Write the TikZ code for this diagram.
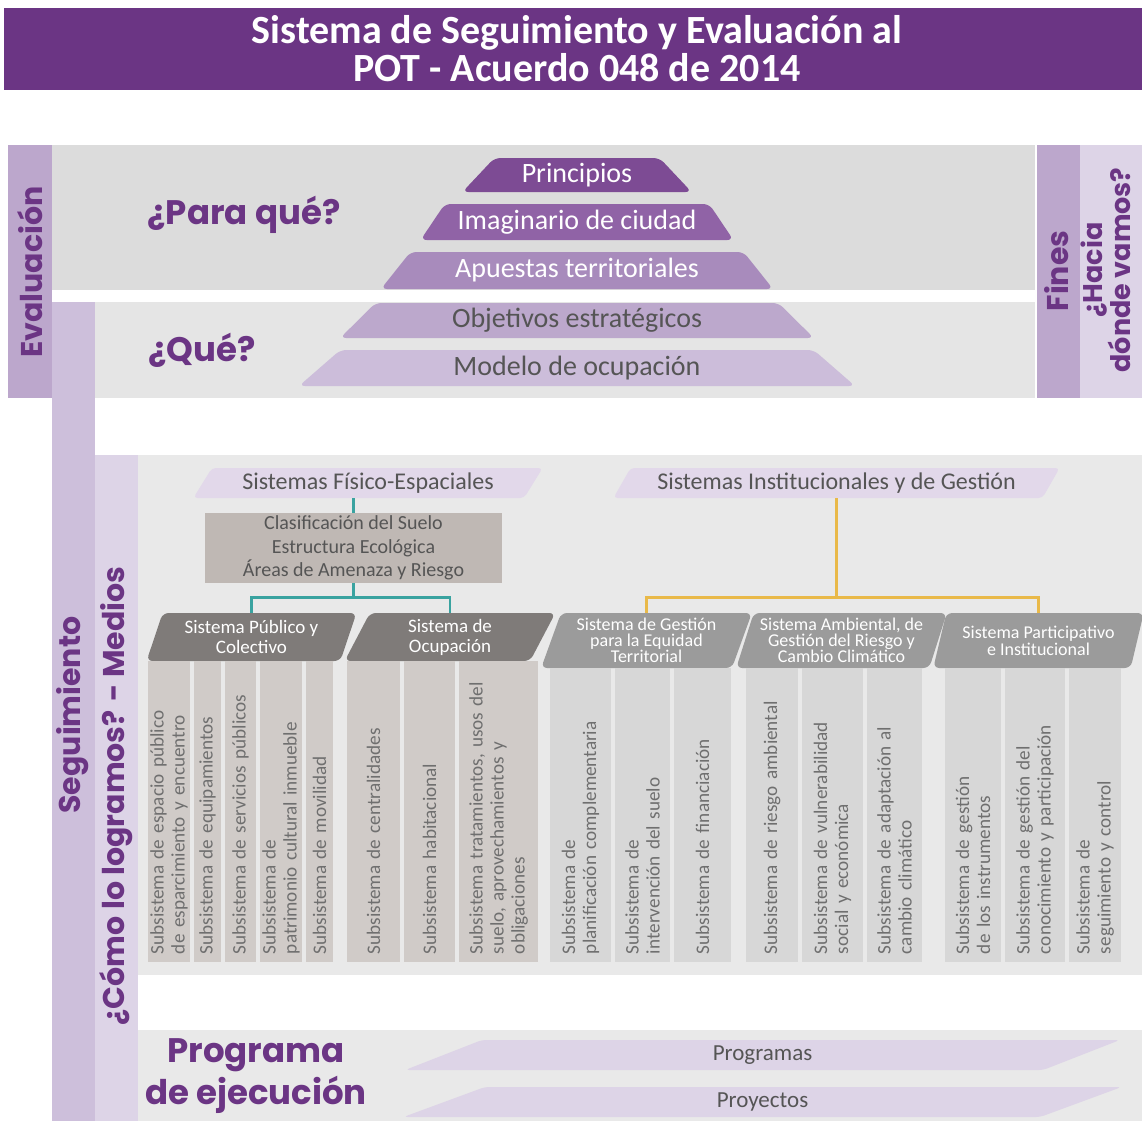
\documentclass[tikz,border=0pt]{standalone}
\usepackage{fontspec}
\setmainfont{Carlito}
\newfontfamily\headfont{Poppins}
\usetikzlibrary{shapes.geometric}

\definecolor{potpurple}{HTML}{6B3584}
\definecolor{barmid}{HTML}{BCA7CC}
\definecolor{barlight}{HTML}{CDBFDB}
\definecolor{barpale}{HTML}{DDD4E7}
\definecolor{panelA}{HTML}{DCDCDC}
\definecolor{panelB}{HTML}{E5E5E5}
\definecolor{panelC}{HTML}{E9E9E9}
\definecolor{lvlone}{HTML}{7D4B94}
\definecolor{lvltwo}{HTML}{9063A6}
\definecolor{lvlthree}{HTML}{A88BBC}
\definecolor{lvlfour}{HTML}{BCA8CC}
\definecolor{lvlfive}{HTML}{CCBDDA}
\definecolor{tagfill}{HTML}{E2D8EA}
\definecolor{soilbox}{HTML}{BFB8B4}
\definecolor{hdrdark}{HTML}{7F7B79}
\definecolor{hdrlight}{HTML}{9B9B9B}
\definecolor{subwarm}{HTML}{D0CBC8}
\definecolor{subcool}{HTML}{D7D7D7}
\definecolor{subtext}{HTML}{6F6F6F}
\definecolor{darktext}{HTML}{555555}
\definecolor{linkteal}{HTML}{3AA3A0}
\definecolor{linkgold}{HTML}{E9B949}

\tikzset{
  ask/.style={font=\headfont\bfseries\fontsize{17}{21}\selectfont, text=potpurple},
  sidelabel/.style={rotate=90, font=\headfont\bfseries\fontsize{15}{15}\selectfont, text=potpurple, align=center},
  lvl/.style={trapezium, trapezium left angle=48, trapezium right angle=48, trapezium stretches=true,
    inner sep=0pt, rounded corners=3pt, font=\fontsize{14}{16}\selectfont},
  tag/.style={trapezium, trapezium left angle=54, trapezium right angle=126, trapezium stretches=true,
    inner sep=0pt, rounded corners=2pt, fill=tagfill, text=darktext, minimum height=15pt,
    font=\fontsize{12}{14}\selectfont},
  hdr/.style={trapezium, trapezium left angle=70, trapezium right angle=110, trapezium stretches=true,
    inner sep=0pt, rounded corners=3pt, text=white, align=center, minimum width=105.5pt},
  subA/.style={rotate=90, fill=subwarm, text=subtext, inner xsep=4pt, inner ysep=0pt,
    text width=142.5pt, align=left, font=\fontsize{9.6}{10.5}\selectfont},
  subB/.style={subA, fill=subcool, text width=139pt},
  link/.style={line width=1.2pt},
}

\begin{document}
\begin{tikzpicture}[x=0.5pt, y=-0.5pt]
  \useasboundingbox (0,0) rectangle (1142,1121);
  \clip (0,0) rectangle (1142,1121);

  % title bar
  \fill[potpurple] (4,8) rectangle (1142,90);
  \node[text=white, font=\bfseries\fontsize{20}{19}\selectfont, align=center] (titulo) at (577,49)
    {Sistema de Seguimiento y Evaluación al\\POT - Acuerdo 048 de 2014};

  % side bars and panels
  \fill[barmid] (8,145) rectangle (52,398);
  \fill[panelA] (52,145) rectangle (1035,290);
  \fill[barlight] (52,302) rectangle (95,1121);
  \fill[panelB] (95,302) rectangle (1035,398);
  \fill[barmid] (1037,145) rectangle (1080,398);
  \fill[barpale] (1080,145) rectangle (1142,398);
  \fill[barpale] (95,455) rectangle (138,1121);
  \fill[panelC] (138,455) rectangle (1142,975);
  \fill[panelC] (138,1030) rectangle (1142,1121);

  \node[sidelabel] (evaluacion) at (30,272) {Evaluación};
  \node[sidelabel] (seguimiento) at (73,715) {Seguimiento};
  \node[sidelabel] (medios) at (116,796) {¿Cómo lo logramos? - Medios};
  \node[sidelabel] (fines) at (1057,271) {Fines};
  \node[sidelabel, font=\headfont\bfseries\fontsize{13.5}{14}\selectfont] (hacia) at (1106,270) {¿Hacia\\dónde vamos?};

  \node[ask] (paraque) at (244,215) {¿Para qué?};
  \node[ask] (que) at (202,350) {¿Qué?};

  % pyramid
  \node[lvl, fill=lvlone, text=white, minimum width=115pt, minimum height=17pt] (principios) at (577,175) {Principios};
  \node[lvl, fill=lvltwo, text=white, minimum width=156.5pt, minimum height=18pt] (imaginario) at (577,222) {Imaginario de ciudad};
  \node[lvl, fill=lvlthree, text=white, minimum width=196.5pt, minimum height=18.5pt] (apuestas) at (577,270.5) {Apuestas territoriales};
  \node[lvl, fill=lvlfour, text=darktext, minimum width=237pt, minimum height=17.5pt] (objetivos) at (577,320.5) {Objetivos estratégicos};
  \node[lvl, fill=lvlfive, text=darktext, minimum width=278.5pt, minimum height=18pt] (modelo) at (577,368) {Modelo de ocupación};

  % systems
  \node[tag, minimum width=175pt] (fisico) at (368,483) {Sistemas Físico-Espaciales};
  \node[tag, minimum width=223.5pt] (institucional) at (836.5,483) {Sistemas Institucionales y de Gestión};
  \node[fill=soilbox, minimum width=148.5pt, minimum height=35pt, inner sep=0pt, align=center, text=darktext,
    font=\fontsize{10}{11.75}\selectfont] (suelo) at (353.5,548)
    {Clasificación del Suelo\\Estructura Ecológica\\Áreas de Amenaza y Riesgo};

  \node[hdr, fill=hdrdark, minimum height=24pt, font=\fontsize{9.5}{10}\selectfont] (publico) at (251.5,637) {Sistema Público y\\Colectivo};
  \node[hdr, fill=hdrdark, minimum height=24pt, font=\fontsize{9.5}{10}\selectfont] (ocupacion) at (450,637) {Sistema de\\Ocupación};
  \node[hdr, fill=hdrlight, minimum height=27.5pt, font=\fontsize{9}{8}\selectfont] (gestion) at (646.5,640.5) {Sistema de Gestión\\para la Equidad\\Territorial};
  \node[hdr, fill=hdrlight, minimum height=27.5pt, font=\fontsize{9}{8}\selectfont] (ambiental) at (841.5,640.5) {Sistema Ambiental, de\\Gestión del Riesgo y\\Cambio Climático};
  \node[hdr, fill=hdrlight, minimum height=27.5pt, font=\fontsize{9}{8.5}\selectfont] (participativo) at (1038.5,640.5) {Sistema Participativo\\e Institucional};

  % connectors
  \draw[link, linkteal] (suelo.north) -- (suelo.north |- fisico.south);
  \draw[link, linkteal] (suelo.south) -- ++(0,14) coordinate (tealbar);
  \draw[link, linkteal] (publico.north) |- (tealbar) -| (ocupacion.north);
  \draw[link, linkgold] (institucional.south) -- ++(0,99) coordinate (goldbar);
  \draw[link, linkgold] (gestion.north) |- (goldbar) -| (participativo.north);

  % subsystems
  \node[subA, minimum height=21pt] (s1) at (169,811.5) {Subsistema de espacio público\\de esparcimiento y encuentro};
  \node[subA, minimum height=13.5pt] (s2) at (207.5,811.5) {Subsistema de equipamientos};
  \node[subA, minimum height=15.5pt] (s3) at (240.5,811.5) {Subsistema de servicios públicos};
  \node[subA, minimum height=21pt] (s4) at (281,811.5) {Subsistema de\\patrimonio cultural inmueble};
  \node[subA, minimum height=13.5pt] (s5) at (319.5,811.5) {Subsistema de movilidad};
  \node[subA, minimum height=26.5pt] (s6) at (373.5,811.5) {Subsistema de centralidades};
  \node[subA, minimum height=25.5pt] (s7) at (429.5,811.5) {Subsistema habitacional};
  \node[subA, minimum height=39.5pt] (s8) at (498.5,811.5) {Subsistema tratamientos, usos del\\suelo, aprovechamientos y\\obligaciones};
  \node[subB, minimum height=30.5pt] (s9) at (580.5,815) {Subsistema de\\planificación complementaria};
  \node[subB, minimum height=27.5pt] (s10) at (642.5,815) {Subsistema de\\intervención del suelo};
  \node[subB, minimum height=28.5pt] (s11) at (702.5,815) {Subsistema de financiación};
  \node[subB, minimum height=26pt] (s12) at (772,815) {Subsistema de riesgo ambiental};
  \node[subB, minimum height=30.5pt] (s13) at (832.5,815) {Subsistema de vulnerabilidad\\social y económica};
  \node[subB, minimum height=27.5pt] (s14) at (894.5,815) {Subsistema de adaptación al\\cambio climático};
  \node[subB, minimum height=28pt] (s15) at (973,815) {Subsistema de gestión\\de los instrumentos};
  \node[subB, minimum height=30pt] (s16) at (1035,815) {Subsistema de gestión del\\conocimiento y participación};
  \node[subB, minimum height=26pt] (s17) at (1095,815) {Subsistema de\\seguimiento y control};

  % execution
  \node[ask, align=center] (programa) at (256,1076) {Programa\\de ejecución};
  \node[tag, fill=barpale, minimum width=359.5pt, font=\fontsize{11.5}{13}\selectfont] (programas) at (762.5,1055) {Programas};
  \node[tag, fill=barpale, minimum width=359.5pt, font=\fontsize{11.5}{13}\selectfont] (proyectos) at (762.5,1102) {Proyectos};
\end{tikzpicture}
\end{document}
